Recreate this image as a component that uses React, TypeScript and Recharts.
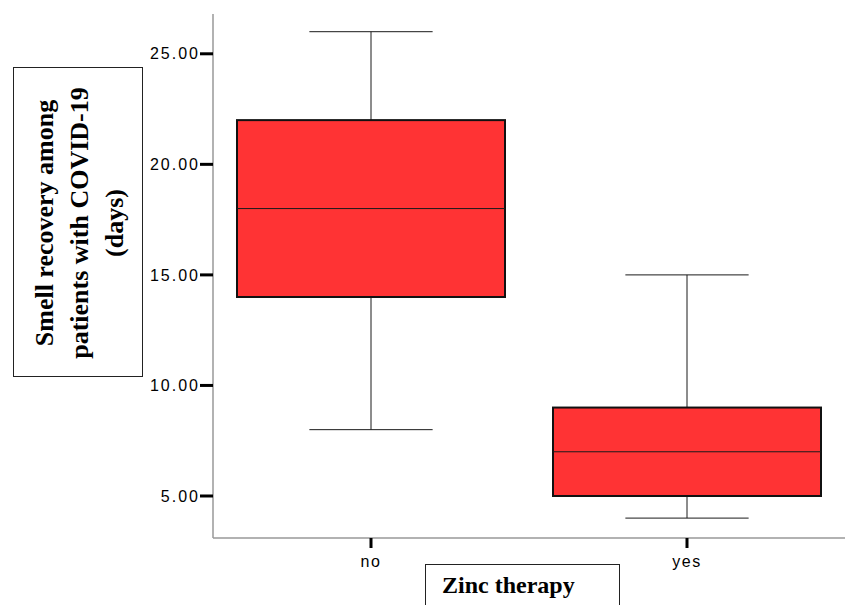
import React from 'react';
import { ComposedChart, Bar, XAxis, YAxis } from 'recharts';

const categories = ['no', 'yes'];
const minValues = [8, 4];
const q1Values = [14, 5];
const medianValues = [18, 7];
const q3Values = [22, 9];
const maxValues = [26, 15];
const yTicks = [5, 10, 15, 20, 25];
const yLabelLines = ['Smell recovery among', 'patients with COVID-19', '(days)'];
const xLabel = 'Zinc therapy';

const data = categories.map((c, i) => ({
  group: c,
  min: minValues[i],
  q1: q1Values[i],
  median: medianValues[i],
  q3: q3Values[i],
  max: maxValues[i],
  range: [minValues[i], maxValues[i]],
}));

const BoxShape = (props: any) => {
  const { x, y, width, height, payload } = props;
  const { min, q1, median, q3, max } = payload;
  const py = (v: number) => y + ((max - v) / (max - min)) * height;
  const cx = x + width / 2;
  const capHalf = width * 0.23;
  const lineColor = '#1a1a1a';
  return (
    <g>
      <line x1={cx} x2={cx} y1={py(max)} y2={py(q3)} stroke={lineColor} strokeWidth={1} />
      <line x1={cx} x2={cx} y1={py(q1)} y2={py(min)} stroke={lineColor} strokeWidth={1} />
      <line x1={cx - capHalf} x2={cx + capHalf} y1={py(max)} y2={py(max)} stroke={lineColor} strokeWidth={1} />
      <line x1={cx - capHalf} x2={cx + capHalf} y1={py(min)} y2={py(min)} stroke={lineColor} strokeWidth={1} />
      <rect x={x} y={py(q3)} width={width} height={py(q1) - py(q3)} fill="#FF3334" stroke="#111" strokeWidth={2} />
      <line x1={x} x2={x + width} y1={py(median)} y2={py(median)} stroke={lineColor} strokeWidth={1} />
    </g>
  );
};

const YTick = (props: any) => {
  const { x, y, payload } = props;
  return (
    <text x={x} y={y} dy="0.355em" textAnchor="end" fontSize={16} fill="#000"
      fontFamily="'Liberation Sans', Arial, sans-serif" letterSpacing={2}>
      {Number(payload.value).toFixed(2)}
    </text>
  );
};

const XTick = (props: any) => {
  const { x, y, payload } = props;
  return (
    <text x={x} y={y} dy="0.71em" textAnchor="middle" fontSize={16} fill="#000"
      fontFamily="'Liberation Sans', Arial, sans-serif" letterSpacing={1.5}>
      {payload.value}
    </text>
  );
};

export default function App() {
  return (
    <div style={{ position: 'absolute', left: 0, top: 0, width: 846, height: 605, overflow: 'hidden', background: '#fff' }}>
      <ComposedChart width={846} height={605} data={data} margin={{ top: 14, right: 1, bottom: 0, left: 0 }}>
        <YAxis
          type="number"
          domain={[3.1, 26.8]}
          ticks={yTicks}
          width={213}
          allowDataOverflow
          axisLine={{ stroke: '#999', strokeWidth: 1.5 }}
          tickLine={{ stroke: '#000', strokeWidth: 3 }}
          tickSize={13}
          tickMargin={0}
          tick={<YTick />}
        />
        <XAxis
          dataKey="group"
          height={67}
          axisLine={{ stroke: '#999', strokeWidth: 1.5 }}
          tickLine={{ stroke: '#000', strokeWidth: 3 }}
          tickSize={10}
          tickMargin={8}
          tick={<XTick />}
        />
        <Bar dataKey="range" barSize={268} shape={<BoxShape />} isAnimationActive={false} />
      </ComposedChart>
      <div style={{ position: 'absolute', left: 13, top: 67, width: 130, height: 310, border: '1.5px solid #222', boxSizing: 'border-box' }}>
        <div style={{
          position: 'absolute', left: (130 - 310) / 2, top: (310 - 130) / 2, width: 310, height: 130,
          transform: 'rotate(-90deg)', display: 'flex', flexDirection: 'column', justifyContent: 'center', alignItems: 'center',
          fontFamily: "'Liberation Serif', 'Times New Roman', serif", fontWeight: 'bold', fontSize: 26, lineHeight: '35px', color: '#000',
          whiteSpace: 'nowrap',
        }}>
          {yLabelLines.map((l) => (<div key={l}>{l}</div>))}
        </div>
      </div>
      <div style={{ position: 'absolute', left: 425, top: 564, width: 195, height: 60, border: '1.5px solid #222', boxSizing: 'border-box', background: '#fff' }}>
        <div style={{ position: 'absolute', left: 16, top: 6, fontFamily: "'Liberation Serif', 'Times New Roman', serif", fontWeight: 'bold', fontSize: 24, color: '#000', whiteSpace: 'nowrap', lineHeight: '28px' }}>
          {xLabel}
        </div>
      </div>
    </div>
  );
}
